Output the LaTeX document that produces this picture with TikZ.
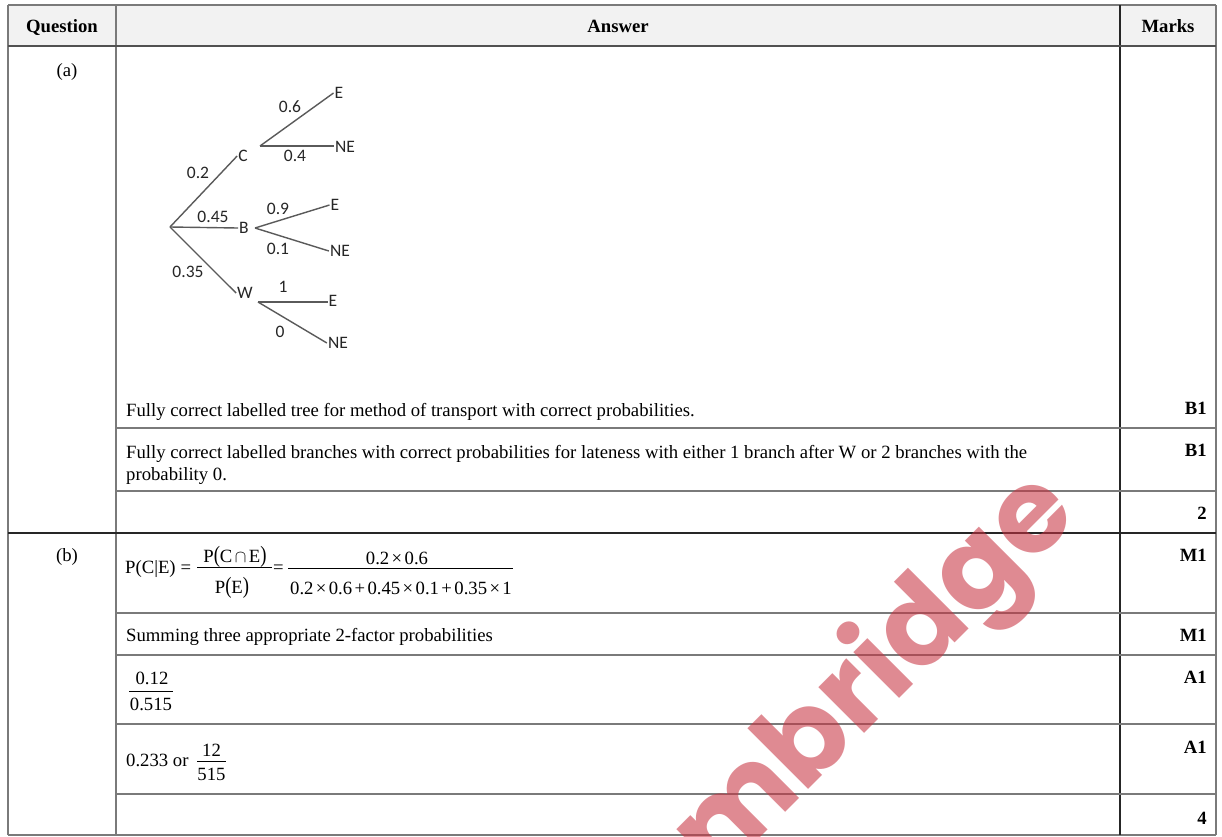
\documentclass[tikz,border=0pt]{standalone}
\usepackage{fontspec}
\usepackage{graphicx}
\setmainfont{Liberation Serif}
\newfontfamily\treefont{Carlito}
\newfontfamily\wmfont{Poppins}

\definecolor{gridgrey}{HTML}{7A7A7A}
\definecolor{griddark}{HTML}{262626}
\definecolor{headfill}{HTML}{F2F2F2}
\definecolor{treeline}{HTML}{5A5A5A}
\definecolor{treetext}{HTML}{262626}
\definecolor{wmred}{RGB}{200,50,65}

% tall parentheses used in the probability expressions
\newcommand\tallp[1]{\scalebox{1}[1.25]{(}#1\scalebox{1}[1.25]{)}}
% binary operator with the narrow spacing of the equation editor
\newcommand\bop[1]{\kern2.4pt#1\kern2.4pt}

\tikzset{
  body/.style={font=\fontsize{18.7}{22}\selectfont, inner sep=0pt},
  head/.style={font=\fontsize{18.7}{22}\selectfont\bfseries, inner sep=0pt, anchor=base},
  markcell/.style={font=\fontsize{18.7}{22}\selectfont\bfseries, inner sep=0pt, anchor=base east},
  gline/.style={draw=gridgrey, line width=1.6pt},
  dline/.style={draw=griddark, line width=1.3pt},
  tnode/.style={font=\treefont\fontsize{17.5}{20}\selectfont, text=treetext, inner sep=1pt},
  tlab/.style={font=\treefont\fontsize{17.5}{20}\selectfont, text=treetext, inner sep=0pt},
  branch/.style={draw=treeline, line width=1.4pt},
  fbar/.style={draw=black, line width=0.9pt},
}

\begin{document}
\begin{tikzpicture}[x=1pt, y=-1pt]
\useasboundingbox (0,0) rectangle (1222,836);
\fill[white] (0,0) rectangle (1222,836);

% header band
\fill[headfill] (8,5) rectangle (1216,46);

% table rules
\draw[gline] (8,5) -- (1216,5);
\draw[gline] (8,5) -- (8,835);
\draw[gline] (1216,5) -- (1216,835);
\draw[gline] (8,835) -- (1216,835);
\draw[gline] (116,5) -- (116,835);
\draw[dline] (1120,5) -- (1120,835);
\draw[draw=griddark!80, line width=2pt] (8,46) -- (1216,46);
\draw[dline] (8,533) -- (1216,533);
\foreach \yy in {428,491,613,655,724,794}
  \draw[gline] (116,\yy) -- (1216,\yy);

% header
\node[head] (hq) at (62,32) {Question};
\node[head] (ha) at (618,32) {Answer};
\node[head] (hm) at (1168,32) {Marks};

% part labels
\node[body, anchor=base] (pa) at (67,76) {(a)};
\node[body, anchor=base] (pb) at (67,561) {(b)};

% tree diagram
\coordinate (root) at (170,227);
\node[tnode] (C) at (243,156) {C};
\node[tnode] (B) at (244,228) {B};
\node[tnode] (W) at (245,293) {W};
\coordinate (Cs) at (260,146);
\coordinate (Bs) at (255,228);
\coordinate (Ws) at (258,302);
\node[tnode] (CE) at (339,93) {E};
\node[tnode] (CN) at (345,147) {NE};
\node[tnode] (BE) at (335,205) {E};
\node[tnode] (BN) at (340,251) {NE};
\node[tnode] (WE) at (333,301) {E};
\node[tnode] (WN) at (338,343) {NE};

\draw[branch] (root) -- (C.west);
\draw[branch] (root) -- (B.west);
\draw[branch] (root) -- (W.west);
\draw[branch] (Cs) -- (CE.west);
\draw[branch] (Cs) -- (Cs -| CN.west);
\draw[branch] (Bs) -- (BE.west);
\draw[branch] (Bs) -- (BN.west);
\draw[branch] (Ws) -- (Ws -| WE.west);
\draw[branch] (Ws) -- (WN.west);

\node[tlab] (l02) at (198,173) {0.2};
\node[tlab] (l045) at (213,217) {0.45};
\node[tlab] (l035) at (188,272) {0.35};
\node[tlab] (l06) at (290,107) {0.6};
\node[tlab] (l04) at (295,156) {0.4};
\node[tlab] (l09) at (278,209) {0.9};
\node[tlab] (l01) at (278,249) {0.1};
\node[tlab] (l1) at (283,287) {1};
\node[tlab] (l0) at (280,332) {0};

% part (a) criteria
\node[body, anchor=base west] (ta1) at (126,416) {Fully correct labelled tree for method of transport with correct probabilities.};
\node[body, anchor=base west] (ta2) at (126,458) {Fully correct labelled branches with correct probabilities for lateness with either 1 branch after W or 2 branches with the};
\node[body, anchor=base west] (ta3) at (126,480.5) {probability 0.};
\node[markcell] (ma1) at (1207,414) {B1};
\node[markcell] (ma2) at (1207,456) {B1};
\node[markcell] (ma3) at (1207,519) {2};

% part (b) working
\node[body, anchor=base west] (pce) at (125,573.5) {P(C|E)\kern5pt=};
\node[body, anchor=base] (n1) at (235,562) {P\tallp{C\kern2.5pt$\cap$\kern2.5ptE}};
\node[body, anchor=base] (d1) at (232,593) {P\tallp{E}};
\draw[fbar] (197,567.5) -- (272,567.5);
\node[body, anchor=base] (eq2) at (278.5,573.5) {=};
\node[body, anchor=base] (n2) at (397,564) {0.2\bop{×}0.6};
\node[body, anchor=base] (d2) at (401,594) {0.2\bop{×}0.6\bop{+}0.45\bop{×}0.1\bop{+}0.35\bop{×}1};
\draw[fbar] (288,568) -- (513,568);
\node[markcell] (mb1) at (1207,561) {M1};

\node[body, anchor=base west] (tb2) at (126,641) {Summing three appropriate 2-factor probabilities};
\node[markcell] (mb2) at (1207,641) {M1};

\node[body, anchor=base] (n3) at (152,684) {0.12};
\node[body, anchor=base] (d3) at (151,710.5) {0.515};
\draw[fbar] (129,691) -- (173,691);
\node[markcell] (mb3) at (1207,683) {A1};

\node[body, anchor=base west] (tb4) at (126,766) {0.233 or};
\node[body, anchor=base] (n4) at (211.5,756) {12};
\node[body, anchor=base] (d4) at (211.5,780) {515};
\draw[fbar] (197,761) -- (226,761);
\node[markcell] (mb4) at (1207,753) {A1};

\node[markcell] (mb5) at (1207,824) {4};

% publisher watermark
\begin{scope}
\clip (0,0) rectangle (1222,836);
\node[anchor=base east, rotate=45, inner sep=0pt, text=wmred, text opacity=0.57,
      font=\wmfont\bfseries\fontsize{116}{116}\selectfont] (wm) at (1081,517) {Cambridge};
\end{scope}
\end{tikzpicture}
\end{document}
